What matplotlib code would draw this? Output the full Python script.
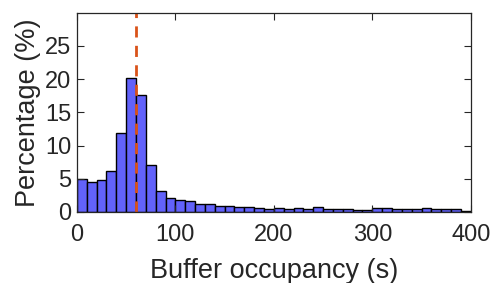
import numpy as np
import matplotlib.pyplot as plt

plt.rcParams['font.family'] = ['Liberation Sans', 'DejaVu Sans']

# histogram of buffer occupancy, 10 s bins from 0 to 400
bin_edges = np.arange(0, 410, 10)
percentages = [4.9, 4.5, 4.85, 6.1, 11.9, 20.2, 17.6, 7.1, 3.15, 2.05,
               1.8, 1.65, 1.2, 1.15, 0.95, 0.9, 0.75, 0.8, 0.55, 0.4,
               0.65, 0.4, 0.55, 0.5, 0.75, 0.45, 0.4, 0.4, 0.25, 0.3,
               0.55, 0.55, 0.45, 0.45, 0.45, 0.6, 0.5, 0.45, 0.45, 0.15]
median_occupancy = 60

fig = plt.figure(figsize=(4.93, 2.83), dpi=100)
ax = fig.add_axes([0.156, 0.251, 0.799, 0.704])

ax.bar(bin_edges[:-1], percentages, width=10, align='edge',
       color='#6262fa', edgecolor='black', linewidth=1.0)
ax.axvline(median_occupancy, color='#d95319', linestyle='--', linewidth=2,
           dashes=(4, 3))

ax.set_xlim(0, 400)
ax.set_ylim(0, 30)
ax.set_xticks([0, 100, 200, 300, 400])
ax.set_yticks([0, 5, 10, 15, 20, 25])
ax.tick_params(direction='in', length=5, width=0.8, labelsize=17,
               top=True, right=True, colors='#262626')
ax.tick_params(axis='x', pad=9)
ax.tick_params(axis='y', pad=4)
for side in ax.spines.values():
    side.set_color('#262626')
    side.set_linewidth(0.9)

ax.set_xlabel('Buffer occupancy (s)', fontsize=19.5, color='#262626', labelpad=8)
ax.set_ylabel('Percentage (%)', fontsize=19.5, color='#262626', labelpad=3)

fig.savefig('out.png', dpi=100)
